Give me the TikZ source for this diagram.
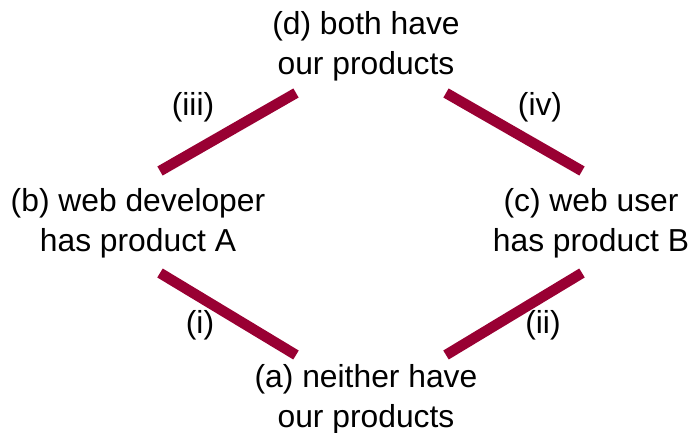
\documentclass[tikz,border=0pt]{standalone}
\usepackage{fontspec}
\setmainfont{Liberation Sans}
\definecolor{linkred}{HTML}{990033}
\begin{document}
\begin{tikzpicture}[x=1pt,y=-1pt,
  state/.style={align=center,inner sep=0pt,font=\fontsize{31.8}{40}\selectfont},
  tag/.style={inner sep=0pt,font=\fontsize{31.8}{40}\selectfont},
  link/.style={draw=linkred,line width=10.5pt,line cap=butt}]
\useasboundingbox (0,0) rectangle (691,433);
% the four states
\node[state] (d) at (366,46) {(d) both have\\our products};
\node[state] (b) at (138,223) {(b) web developer\\has product A};
\node[state] (c) at (591,223) {(c) web user\\has product B};
\node[state] (a) at (366,399) {(a) neither have\\our products};
% ends of the transition bars
\coordinate (b-up) at (160,171);
\coordinate (d-left) at (296,93);
\coordinate (d-right) at (446,93);
\coordinate (c-up) at (582,171);
\coordinate (b-down) at (160,273);
\coordinate (a-left) at (296,355);
\coordinate (a-right) at (446,355);
\coordinate (c-down) at (582,273);
\draw[link] (b-up) -- (d-left);
\draw[link] (d-right) -- (c-up);
\draw[link] (b-down) -- (a-left);
\draw[link] (a-right) -- (c-down);
% transition labels
\node[tag] (t3) at (193,107) {(iii)};
\node[tag] (t4) at (540,107) {(iv)};
\node[tag] (t1) at (200,325) {(i)};
\node[tag] (t2) at (543,325) {(ii)};
\end{tikzpicture}
\end{document}
